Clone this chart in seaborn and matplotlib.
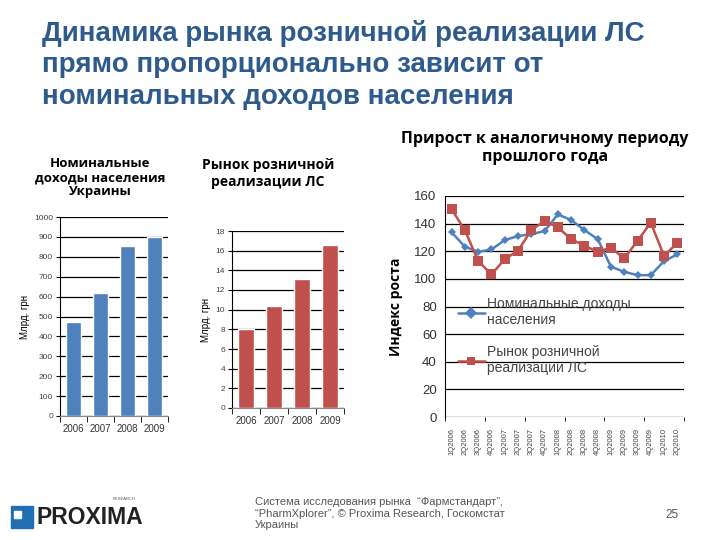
import numpy as np
import pandas as pd
import matplotlib
matplotlib.use("Agg")
import matplotlib.pyplot as plt
import seaborn as sns

# data
years = ["2006", "2007", "2008", "2009"]
income = [470, 620, 855, 900]
pharma = [8.0, 10.4, 13.1, 16.6]

quarters = ["1Q2006", "2Q2006", "3Q2006", "4Q2006", "1Q2007", "2Q2007", "3Q2007", "4Q2007",
            "1Q2008", "2Q2008", "3Q2008", "4Q2008", "1Q2009", "2Q2009", "3Q2009", "4Q2009",
            "1Q2010", "2Q2010"]
income_growth = [133.7, 123.3, 119.6, 121.3, 128.1, 131.0, 132.4, 134.6, 146.7, 142.6,
                 135.3, 128.8, 108.8, 105.1, 102.7, 102.7, 112.9, 117.7]
pharma_growth = [150.3, 135.3, 112.9, 103.2, 114.3, 120.4, 135.3, 141.9, 137.3, 128.8,
                 124.0, 119.6, 122.5, 114.8, 127.6, 140.7, 116.5, 126.2]

sns.set_style("white")
plt.rcParams['font.family'] = ['Liberation Sans', 'DejaVu Sans']

BLUE = "#4F81BD"
RED = "#C0504D"
W, H = 720, 540

fig = plt.figure(figsize=(7.2, 5.4), dpi=100)


def box(l, t, r, b):
    return [l / W, 1 - b / H, (r - l) / W, (b - t) / H]


fig.text(42 / W, 1 - 20 / H,
         "Динамика рынка розничной реализации ЛС\nпрямо пропорционально зависит от\nноминальных доходов населения",
         ha="left", va="top", fontsize=20, fontweight="bold", color="#2F5B8C", linespacing=1.27)


def small_bar(ax, cats, vals, color, ymax, step):
    df = pd.DataFrame({"year": cats, "val": vals})
    sns.barplot(data=df, x="year", y="val", color=color, width=0.55, ax=ax, saturation=1)
    ticks = np.arange(0, ymax + step / 2, step)
    ax.set_ylim(0, ymax)
    ax.set_yticks(ticks)
    ax.set_yticklabels([f"{v:.0f}" for v in ticks], fontsize=6, color="#444444")
    ax.yaxis.grid(True, color="black", linewidth=0.9)
    ax.set_axisbelow(True)
    for s in ["top", "right"]:
        ax.spines[s].set_visible(False)
    ax.spines["left"].set_color("black")
    ax.spines["bottom"].set_color("#888888")
    ax.set_xlim(-0.5, 3.5)
    ax.set_xticks(np.arange(-0.5, 4, 1), minor=True)
    ax.tick_params(axis="x", which="major", length=0, labelsize=7, colors="#333333", pad=6)
    ax.tick_params(axis="x", which="minor", length=4, color="black", direction="out", bottom=True)
    ax.tick_params(axis="y", length=3, color="black", direction="out", left=True, pad=2)
    ax.set_xlabel("")
    ax.set_ylabel("Млрд. грн", fontsize=7, color="black", labelpad=3)


ax1 = fig.add_axes(box(60, 217, 168, 416))
small_bar(ax1, years, income, BLUE, 1000, 100)
fig.text(100 / W, 1 - 157 / H, "Номинальные\nдоходы населения\nУкраины", ha="center", va="top",
         fontsize=9.5, fontweight="bold", color="black", family=["Open Sans", "DejaVu Sans"], linespacing=1.1)

ax2 = fig.add_axes(box(232, 231, 344, 408))
small_bar(ax2, years, pharma, RED, 18, 2)
fig.text(268 / W, 1 - 158 / H, "Рынок розничной\nреализации ЛС", ha="center", va="top",
         fontsize=10, fontweight="bold", color="black", family=["Open Sans", "DejaVu Sans"], linespacing=1.25)

# growth index chart
ax3 = fig.add_axes(box(445, 196, 684, 417))
long = pd.DataFrame({
    "q": quarters * 2,
    "idx": income_growth + pharma_growth,
    "series": ["Номинальные доходы\nнаселения"] * len(quarters) + ["Рынок розничной\nреализации ЛС"] * len(quarters),
})
sns.lineplot(data=long, x="q", y="idx", hue="series", style="series",
             palette=[BLUE, RED], markers=["D", "s"], dashes=False, sort=False,
             linewidth=1.8, markersize=6, markeredgewidth=0, ax=ax3)
for line, ms in zip(ax3.lines[:2], [4.5, 7]):
    line.set_markersize(ms)
ax3.set_ylim(0, 160)
ax3.set_xlim(-0.5, len(quarters) - 0.5)
ax3.set_yticks(np.arange(0, 161, 20))
ax3.tick_params(axis="y", labelsize=9.5, labelcolor="#333333", length=0, pad=6)
ax3.yaxis.grid(True, color="black", linewidth=0.9)
ax3.set_axisbelow(True)
for s in ["top", "right"]:
    ax3.spines[s].set_visible(False)
ax3.spines["left"].set_color("black")
ax3.spines["bottom"].set_visible(False)
ax3.set_xticks(range(len(quarters)))
ax3.set_xticklabels(quarters, rotation=90, fontsize=5.5, color="#444444")
ax3.set_xticks(np.arange(-0.5, len(quarters), 3), minor=True)
ax3.tick_params(axis="x", which="major", length=0, pad=8)
ax3.tick_params(axis="x", which="minor", length=3, color="black", direction="out", bottom=True)
ax3.set_xlabel("")
ax3.set_ylabel("Индекс роста", fontsize=10, fontweight="bold", color="black",
               family=["Open Sans", "DejaVu Sans"], labelpad=8)
handles, labels = ax3.get_legend_handles_labels()
for h in handles:
    h.set_linewidth(1.8)
leg = ax3.legend(handles, labels, loc="upper left", bbox_to_anchor=(0.0, 0.6), frameon=False,
                 fontsize=10, labelspacing=1.3, handlelength=2.0, handletextpad=0.1)
for t in leg.get_texts():
    t.set_color("#444444")
fig.text(545 / W, 1 - 131 / H, "Прирост к аналогичному периоду\nпрошлого года", ha="center", va="top",
         fontsize=11.5, fontweight="bold", color="black", family=["Open Sans", "DejaVu Sans"], linespacing=1.2)

# footer
fig.text(255 / W, 1 - 497 / H, "Система исследования рынка  “Фармстандарт”,\n“PharmXplorer”, © Proxima Research, Госкомстат\nУкраины",
         ha="left", va="top", fontsize=8, color="#555555", linespacing=1.2)
fig.text(672 / W, 1 - 515 / H, "25", ha="center", va="center", fontsize=8.5, color="#555555")

# logo
fig.patches.append(plt.Rectangle((11 / W, 1 - 528 / H), 22 / W, 22 / H, transform=fig.transFigure,
                                 color="#1F6FB5", zorder=3))
fig.patches.append(plt.Rectangle((14 / W, 1 - 518 / H), 7 / W, 7 / H, transform=fig.transFigure,
                                 color="white", zorder=4))
fig.text(36 / W, 1 - 517 / H, "PROXIMA", ha="left", va="center", fontsize=16.5, fontweight="bold",
         color="#222222", family=["Liberation Sans Narrow", "Liberation Sans", "DejaVu Sans"])
fig.text(136 / W, 1 - 499 / H, "RESEARCH", ha="right", va="center", fontsize=3, color="#555555")

fig.savefig("out.png", dpi=100)
